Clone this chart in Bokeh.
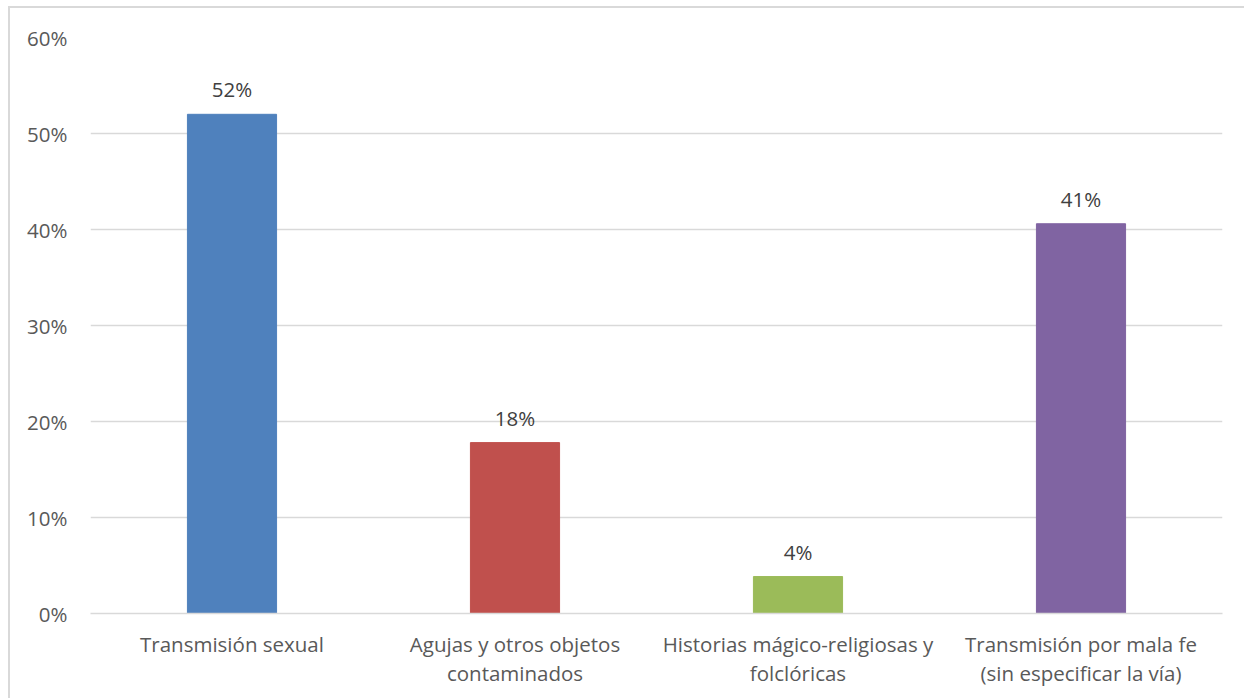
from bokeh.plotting import figure
from bokeh.models import ColumnDataSource, LabelSet, Range1d, NumeralTickFormatter, FixedTicker
from bokeh.core.properties import value
from bokeh.embed import file_html
from bokeh.resources import INLINE

# Percentages of respondents naming each route of transmission
categories = [
    "Transmisión sexual",
    "Agujas y otros objetos\ncontaminados",
    "Historias mágico-religiosas y\nfolclóricas",
    "Transmisión por mala fe\n(sin especificar la vía)",
]
values = [0.52, 0.178, 0.0385, 0.406]
colors = ["#4F81BD", "#C0504D", "#9BBB59", "#8064A2"]
y_ticks = [0, 0.1, 0.2, 0.3, 0.4, 0.5, 0.6]

FONT = "Open Sans"
SIZE = "20.5px"
TEXT = "#595959"
GRID = "#D9D9D9"

labels = [f"{round(v * 100):.0f}%" for v in values]
src = ColumnDataSource(dict(cat=categories, val=values, color=colors, label=labels))

# the chart sits slightly in from the top-left corner, inside a light frame
p = figure(
    x_range=categories,
    y_range=Range1d(0, 0.6),
    width=1236,
    height=692,
    margin=(6, 0, 0, 8),
    output_backend="svg",
    toolbar_location=None,
    min_border_left=80,
    min_border_right=24,
    min_border_top=29,
    min_border_bottom=87,
)
p.styles = {
    "border-left": f"2px solid {GRID}",
    "border-top": f"2px solid {GRID}",
}

p.vbar(x="cat", top="val", width=0.315, color="color", source=src)

p.add_layout(LabelSet(
    x="cat", y="val", text="label", source=src,
    y_offset=17, text_align="center", text_baseline="alphabetic",
    text_font=value(FONT), text_font_size=value(SIZE), text_color="#404040",
))

p.outline_line_color = None
p.xgrid.grid_line_color = None
p.ygrid.grid_line_color = GRID
p.ygrid.grid_line_width = 1.5

p.yaxis.ticker = FixedTicker(ticks=y_ticks)
p.yaxis.formatter = NumeralTickFormatter(format="0%")
p.yaxis.axis_line_color = None
p.yaxis.major_tick_line_color = None
p.yaxis.minor_tick_line_color = None
p.yaxis.major_label_standoff = 17

p.xaxis.axis_line_color = GRID
p.xaxis.axis_line_width = 1.5
p.xaxis.major_tick_line_color = None
p.xaxis.minor_tick_line_color = None
p.xaxis.major_label_standoff = 10
p.xaxis.major_label_text_line_height = 1.05

for ax in (p.xaxis, p.yaxis):
    ax.major_label_text_font = FONT
    ax.major_label_text_font_size = SIZE
    ax.major_label_text_color = TEXT

p.x_range.range_padding = 0

open("out.html", "w").write(file_html(p, INLINE))
